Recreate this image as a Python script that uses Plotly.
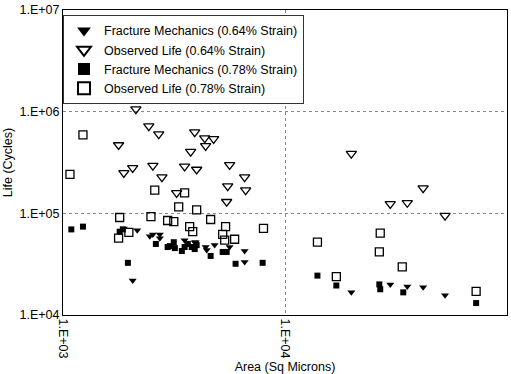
import plotly.graph_objects as go

# Fracture Mechanics (0.64% Strain) - filled down triangles
fm064_area = [2160, 1880, 2060, 2460, 2540, 2730, 2730, 3530, 3920, 3960, 4390, 4440,
              4820, 5630, 6580, 6580, 19900, 29800, 35550, 41900, 52600]
fm064_life = [6.8e4, 7.1e4, 2.18e4, 5.95e4, 6.2e4, 6.2e4, 5.7e4, 5.44e4, 5.2e4, 5.2e4, 4.66e4, 4.36e4,
              4.87e4, 4.66e4, 4.26e4, 3.33e4, 1.67e4, 2.0e4, 1.91e4, 1.87e4, 1.56e4]

# Observed Life (0.64% Strain) - open down triangles
ob064_area = [2130, 2435, 2700, 1780, 3920, 4350, 4770, 4390, 3760, 1880, 2060, 2540, 2790,
              3530, 4000, 5630, 6580, 5520, 6650, 5460, 3250, 19900, 41900, 29800, 35550, 52600]
ob064_life = [1.06e6, 7.2e5, 6.0e5, 4.7e5, 6.3e5, 5.5e5, 5.4e5, 4.6e5, 4.05e5, 2.5e5, 2.8e5, 2.95e5, 2.27e5,
              2.9e5, 2.7e5, 3.0e5, 2.27e5, 1.85e5, 1.69e5, 1.30e5, 1.59e5, 3.87e5, 1.77e5, 1.24e5, 1.27e5, 9.5e4]

# Fracture Mechanics (0.78% Strain) - filled squares
fm078_area = [1090, 1230, 1960, 1800, 1860, 2620, 2960, 3030, 3155, 3190, 3430, 3530, 3650, 3800,
              3920, 4000, 4625, 5240, 5460, 5990, 7930, 14000, 17030, 26600, 26850, 34100, 72600]
fm078_life = [6.95e4, 7.4e4, 3.26e4, 6.6e4, 6.95e4, 5.0e4, 4.66e4, 4.76e4, 5.2e4, 4.55e4, 4.26e4, 4.66e4, 5.0e4, 4.66e4,
              4.45e4, 4.87e4, 3.81e4, 4.17e4, 4.17e4, 3.19e4, 3.26e4, 2.44e4, 1.95e4, 2.0e4, 1.79e4, 1.67e4, 1.31e4]

# Observed Life (0.78% Strain) - open squares
ob078_area = [1230, 1075, 2590, 3530, 3320, 4000, 1800, 2490, 2960, 3155, 4625, 3720, 3840,
              5400, 5240, 5350, 5930, 8000, 1980, 1780, 14000, 26850, 26600, 33740, 17030, 72600]
ob078_life = [5.9e5, 2.42e5, 1.69e5, 1.59e5, 1.16e5, 1.08e5, 9.1e4, 9.3e4, 8.5e4, 8.3e4, 8.7e4, 7.4e4, 6.6e4,
              7.4e4, 6.2e4, 5.45e4, 5.56e4, 7.1e4, 6.5e4, 5.7e4, 5.2e4, 6.4e4, 4.17e4, 2.98e4, 2.39e4, 1.71e4]

x_ticks = [1e3, 1e4, 1e5]
x_ticktext = ["1.E+03", "1.E+04", "1.E+05"]
y_ticks = [1e4, 1e5, 1e6, 1e7]
y_ticktext = ["1.E+04", "1.E+05", "1.E+06", "1.E+07"]

FONT = "Liberation Sans, Arial, sans-serif"
FS = 12.5

fig = go.Figure()
fig.add_trace(go.Scatter(x=fm064_area, y=fm064_life, mode="markers",
                         name="Fracture Mechanics (0.64% Strain)",
                         marker=dict(symbol="triangle-down", size=7, color="black")))
fig.add_trace(go.Scatter(x=ob064_area, y=ob064_life, mode="markers",
                         name="Observed Life (0.64% Strain)",
                         marker=dict(symbol="triangle-down-open", size=9, color="black",
                                     line=dict(color="black", width=1.3))))
fig.add_trace(go.Scatter(x=fm078_area, y=fm078_life, mode="markers",
                         name="Fracture Mechanics (0.78% Strain)",
                         marker=dict(symbol="square", size=6, color="black")))
fig.add_trace(go.Scatter(x=ob078_area, y=ob078_life, mode="markers",
                         name="Observed Life (0.78% Strain)",
                         marker=dict(symbol="square-open", size=8, color="black",
                                     line=dict(color="black", width=1.3))))

fig.update_layout(
    width=511, height=374,
    margin=dict(l=63, r=3, t=7, b=57),
    paper_bgcolor="white", plot_bgcolor="white",
    font=dict(family=FONT, size=FS, color="black"),
    showlegend=True,
    legend=dict(x=0.0, y=0.984, xanchor="left", yanchor="top",
                bgcolor="white", bordercolor="#333", borderwidth=1,
                itemsizing="constant", font=dict(size=FS, family=FONT),
                tracegroupgap=0, itemwidth=30),
)
fig.update_xaxes(type="log", range=[3, 5], tickvals=x_ticks, ticktext=x_ticktext,
                 tickangle=90, showline=True, mirror=True, linecolor="black", linewidth=1,
                 showgrid=True, gridcolor="#888", griddash="dot", gridwidth=1,
                 ticks="", zeroline=False, tickfont=dict(size=FS),
                 title=dict(text="Area (Sq Microns)", font=dict(size=FS), standoff=4))
fig.update_yaxes(type="log", range=[4, 7], tickvals=y_ticks, ticktext=y_ticktext,
                 showline=True, mirror=True, linecolor="black", linewidth=1,
                 showgrid=True, gridcolor="#888", griddash="dot", gridwidth=1,
                 ticks="", zeroline=False, tickfont=dict(size=FS),
                 title=dict(text="Life (Cycles)", font=dict(size=FS), standoff=4))

fig.write_html("out.html")
